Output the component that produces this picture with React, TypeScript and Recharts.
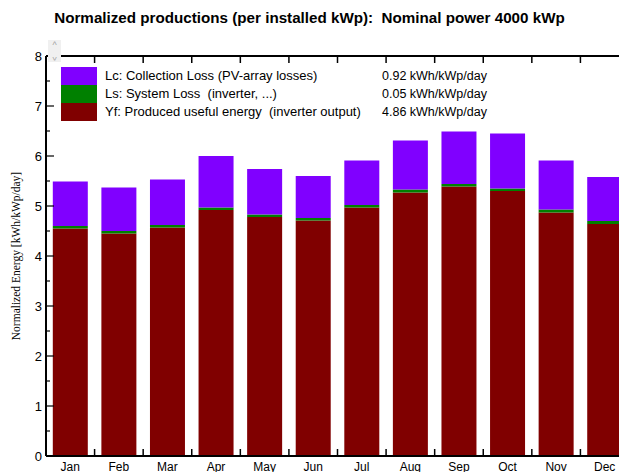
import { BarChart, Bar, XAxis, YAxis, ReferenceLine } from "recharts";

const months = ["Jan", "Feb", "Mar", "Apr", "May", "Jun", "Jul", "Aug", "Sep", "Oct", "Nov", "Dec"];
// Yf: produced useful energy, Ls: system loss, Lc: collection loss (kWh/kWp/day)
const yfValues = [4.55, 4.45, 4.57, 4.92, 4.78, 4.71, 4.97, 5.27, 5.39, 5.3, 4.87, 4.64];
const lsValues = [0.05, 0.05, 0.05, 0.05, 0.05, 0.05, 0.05, 0.06, 0.05, 0.05, 0.06, 0.06];
const lcValues = [0.89, 0.87, 0.91, 1.03, 0.91, 0.84, 0.89, 0.98, 1.05, 1.1, 0.98, 0.88];
const yTicks = [0, 0.5, 1, 1.5, 2, 2.5, 3, 3.5, 4, 4.5, 5, 5.5, 6, 6.5, 7, 7.5, 8];

const legendRows = [
  { color: "#8000ff", label: "Lc: Collection Loss (PV-array losses)", value: "0.92 kWh/kWp/day" },
  { color: "#008000", label: "Ls: System Loss  (inverter, ...)", value: "0.05 kWh/kWp/day" },
  { color: "#800000", label: "Yf: Produced useful energy  (inverter output)", value: "4.86 kWh/kWp/day" },
];

const data = months.map((m, i) => ({
  month: m,
  yf: yfValues[i],
  ls: lsValues[i],
  lc: lcValues[i],
}));

const FONT = '"Liberation Sans", Arial, sans-serif';
const TOP = 56;
const X_AXIS_H = 16;
const H = 472;
const PLOT_BOTTOM = H - X_AXIS_H;
const Y_AXIS_W = 46;

function XTick(props: any) {
  const { x, payload, index } = props;
  const bx = x - payload.offset;
  return (
    <g>
      {index > 0 && (
        <>
          <line x1={bx} x2={bx} y1={PLOT_BOTTOM} y2={PLOT_BOTTOM - 7} stroke="#000" strokeWidth={1.5} />
          <line x1={bx} x2={bx} y1={TOP} y2={TOP + 7} stroke="#000" strokeWidth={1.5} />
        </>
      )}
      <text x={x} y={PLOT_BOTTOM + 15} textAnchor="middle" fontSize={12} fontFamily={FONT} fill="#000">
        {payload.value}
      </text>
    </g>
  );
}

function YTick(props: any) {
  const { y, payload } = props;
  const major = Number.isInteger(payload.value);
  return (
    <g>
      <line x1={Y_AXIS_W} x2={Y_AXIS_W + (major ? 8 : 4)} y1={y} y2={y} stroke="#000" strokeWidth={1.2} />
      {major && (
        <text x={Y_AXIS_W - 4} y={y + 4.5} textAnchor="end" fontSize={13} fontFamily={FONT} fill="#000">
          {payload.value}
        </text>
      )}
    </g>
  );
}

function LegendBox() {
  return (
    <div
      style={{
        position: "absolute",
        left: 61,
        top: 67,
        fontFamily: FONT,
        fontSize: 13,
        color: "#000",
      }}
    >
      {legendRows.map((r) => (
        <div key={r.label} style={{ display: "flex", alignItems: "center", height: 18, lineHeight: "18px" }}>
          <div style={{ width: 36, height: 18, background: r.color }} />
          <div style={{ width: 277, paddingLeft: 8, whiteSpace: "pre" }}>{r.label}</div>
          <div style={{ whiteSpace: "nowrap", fontSize: 12.5 }}>{r.value}</div>
        </div>
      ))}
    </div>
  );
}

function App() {
  return (
    <div style={{ position: "absolute", left: 0, top: 0, width: 619, height: H, overflow: "hidden", background: "#fff" }}>
      <div
        style={{
          position: "absolute",
          top: 9,
          width: 619,
          textAlign: "center",
          fontFamily: FONT,
          fontWeight: "bold",
          fontSize: 15.2,
          color: "#000",
          whiteSpace: "pre",
        }}
      >
        {"Normalized productions (per installed kWp):  Nominal power 4000 kWp"}
      </div>

      <div style={{ position: "absolute", top: 0, left: 0 }}>
        <BarChart width={630} height={H} data={data} margin={{ top: TOP, right: 1, bottom: 0, left: 0 }} barCategoryGap="14%">
          <XAxis
            dataKey="month"
            height={X_AXIS_H}
            tickLine={false}
            axisLine={{ stroke: "#000", strokeWidth: 2 }}
            tick={<XTick />}
            interval={0}
          />
          <YAxis
            type="number"
            domain={[0, 8]}
            ticks={yTicks}
            interval={0}
            width={Y_AXIS_W}
            tickLine={false}
            axisLine={{ stroke: "#000", strokeWidth: 2 }}
            tick={<YTick />}
            label={{
              content: (p: any) => {
                const vb = p.viewBox || {};
                const cy = (vb.y ?? TOP) + (vb.height ?? PLOT_BOTTOM - TOP) / 2;
                return (
                  <text
                    x={17}
                    y={cy}
                    transform={`rotate(-90 17 ${cy})`}
                    textAnchor="middle"
                    dominantBaseline="middle"
                    fontSize={11.5}
                    fontFamily='"Liberation Serif", "Times New Roman", serif'
                    fill="#000"
                  >
                    Normalized Energy [kWh/kWp/day]
                  </text>
                );
              },
            }}
          />
          <ReferenceLine y={8} stroke="#000" strokeWidth={2} />
          <Bar dataKey="yf" stackId="a" fill="#800000" isAnimationActive={false} />
          <Bar dataKey="ls" stackId="a" fill="#008000" isAnimationActive={false} />
          <Bar dataKey="lc" stackId="a" fill="#8000ff" isAnimationActive={false} />
        </BarChart>
      </div>

      <LegendBox />

      <div
        style={{
          position: "absolute",
          left: 48,
          top: 40,
          width: 13,
          height: 22,
          background: "#f0f0f0",
          color: "#a0a0a0",
          fontFamily: FONT,
          fontSize: 9,
          lineHeight: "11px",
          textAlign: "center",
        }}
      >
        <div>^</div>
        <div style={{ transform: "scaleY(-1)" }}>^</div>
      </div>
    </div>
  );
}

export default App;
